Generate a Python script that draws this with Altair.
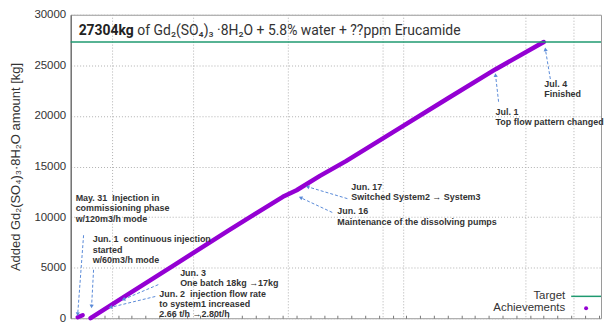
import math
import altair as alt
import pandas as pd

# ---- data (x = days since Jun. 1, y = cumulative kg) ----
may31_days = [-0.94, -0.58]
may31_kg = [100, 300]
main_days = [0, 2, 6, 10, 14, 15, 16.7, 18.6, 22, 26, 29.5, 33]
main_kg = [0, 1730, 5180, 8640, 12000, 12650, 14070, 15530, 18380, 21720, 24620, 27304]
target_kg = 27304

y_ticks = [0, 5000, 10000, 15000, 20000, 25000, 30000]
x_minor_ticks = list(range(-1, 38))
x_grid_days = [1.6, 7.5, 14.4, 21.3, 22.8, 31.7, 35.2]

NB = "\u00a0"
ann_text = [
    f"May. 31{NB}{NB}Injection in\ncommissioning phase\nw/120m3/h mode",
    f"Jun. 1{NB}{NB}continuous injection\n{NB}started\nw/60m3/h mode",
    "Jun. 3\nOne batch 18kg \u219217kg",
    f"Jun. 2{NB}{NB}injection flow rate\nto system1 increased\n2.66 t/h \u21922.80t/h",
    "Jun. 17\nSwitched System2 \u2192 System3",
    "Jun. 16\nMaintenance of the dissolving pumps",
    "Jul. 1\nTop flow pattern changed",
    "Jul. 4\nFinished",
]
ann_day = [-1.09, 0.15, 6.52, 5.0, 18.99, 17.97, 29.49, 33.04]
ann_kg = [12310, 8210, 4886, 2834, 13388, 10945, 20814, 23550]

arr_day0 = [-0.51, 0.217, 4.93, 4.71, 18.7, 17.6, 29.71, 33.48]
arr_kg0 = [8208, 4788, 3322, 2150, 11824, 10456, 21401, 23648]
arr_day1 = [-0.94, 0.072, 2.39, 1.45, 15.8, 15.29, 29.49, 33.12]
arr_kg1 = [391, 1173, 1857, 1075, 12997, 11922, 24039, 26580]

title_bold = "27304kg"
title_rest = "of Gd\u2082(SO\u2084)\u2083 \u00b78H\u2082O + 5.8% water + ??ppm Erucamide"
y_title = "Added Gd\u2082(SO\u2084)\u2083\u00b78H\u2082O amount [kg]"

# ---- layout ----
W, H = 533, 305
X_DOM = [-1.45, 37.17]
Y_DOM = [0, 30000]
px_day = W / (X_DOM[1] - X_DOM[0])
px_kg = H / (Y_DOM[1] - Y_DOM[0])

PURPLE = "#9400d3"
GREEN = "#1f9a70"
ARROW = "#5a8ad8"
TXT = "#333333"

xs = alt.Scale(domain=X_DOM, nice=False, zero=False)
ys = alt.Scale(domain=Y_DOM, nice=False, zero=False)

x_axis = alt.Axis(values=x_minor_ticks, labels=False, title=None, grid=False,
                  domain=False, tickSize=3, tickColor="#777", offset=-3)
y_axis = alt.Axis(values=y_ticks, format="d", title=y_title, grid=True, gridDash=[1, 2],
                  gridColor="#b0b0b0", tickSize=0, labelPadding=5,
                  labelFont="Liberation Sans", labelFontSize=11.5, labelColor=TXT,
                  titleFont="Liberation Sans", titleFontSize=13, titleFontWeight="normal",
                  titleColor=TXT, titlePadding=11, domainColor="#555")


def X(field):
    return alt.X(field, scale=xs, axis=x_axis, title=None)


def Y(field):
    return alt.Y(field, scale=ys, axis=y_axis, title=y_title)


ach = pd.DataFrame({
    "day": may31_days + main_days,
    "kg": may31_kg + main_kg,
    "seg": ["a"] * len(may31_days) + ["b"] * len(main_days),
})

base_line = alt.Chart(ach).mark_line(color=PURPLE, strokeWidth=4.5, strokeCap="round",
                                     strokeJoin="round").encode(
    x=X("day:Q"), y=Y("kg:Q"), detail="seg:N")

vgrid = alt.Chart(pd.DataFrame({"gd": x_grid_days})).mark_rule(
    color="#b0b0b0", strokeDash=[1, 2], strokeWidth=1).encode(x=X("gd:Q"))

target = alt.Chart(pd.DataFrame({"t": [target_kg]})).mark_rule(color=GREEN, strokeWidth=1.5).encode(
    y=Y("t:Q"))

arr = pd.DataFrame({"d0": arr_day0, "k0": arr_kg0, "d1": arr_day1, "k1": arr_kg1})
arr["ang"] = [
    math.degrees(math.atan2((r.d1 - r.d0) * px_day, (r.k1 - r.k0) * px_kg)) % 360
    for r in arr.itertuples()
]
arrows = alt.Chart(arr).mark_rule(color=ARROW, strokeDash=[3, 2], strokeWidth=1).encode(
    x=X("d0:Q"), y=Y("k0:Q"), x2="d1:Q", y2="k1:Q")
heads = alt.Chart(arr).mark_point(shape="triangle-up", filled=True, color=ARROW, size=18,
                                  opacity=1).encode(
    x=X("d1:Q"), y=Y("k1:Q"), angle=alt.Angle("ang:Q", scale=None))

ann = pd.DataFrame({"txt": ann_text, "d": ann_day, "k": ann_kg})
notes = alt.Chart(ann).mark_text(align="left", baseline="top", font="Liberation Sans",
                                 fontSize=9, fontWeight="bold", color=TXT, lineBreak="\n",
                                 lineHeight=10.5).encode(
    x=X("d:Q"), y=Y("k:Q"), text="txt:N")

t1 = alt.Chart(pd.DataFrame({"s": [title_bold]})).mark_text(
    align="left", baseline="alphabetic", font="Roboto", fontSize=14, fontWeight="bold",
    color="#222").encode(x=alt.value(8), y=alt.value(20), text="s:N")
t2 = alt.Chart(pd.DataFrame({"s": [title_rest]})).mark_text(
    align="left", baseline="alphabetic", font="Roboto", fontSize=14, color="#333").encode(
    x=alt.value(67), y=alt.value(20), text="s:N")

leg_t = alt.Chart(pd.DataFrame({"s": ["Target"]})).mark_text(
    align="right", baseline="middle", font="Liberation Sans", fontSize=11.5, color=TXT).encode(
    x=alt.value(497), y=alt.value(283), text="s:N")
leg_a = alt.Chart(pd.DataFrame({"s": ["Achievements"]})).mark_text(
    align="right", baseline="middle", font="Liberation Sans", fontSize=11.5, color=TXT).encode(
    x=alt.value(497), y=alt.value(295), text="s:N")
leg_line = alt.Chart(pd.DataFrame({"s": ["Target"]})).mark_rule(color=GREEN, strokeWidth=1.5).encode(
    x=alt.value(503), x2=alt.value(533), y=alt.value(283))
leg_pt = alt.Chart(pd.DataFrame({"s": ["Achievements"]})).mark_circle(color=PURPLE, size=16, opacity=1).encode(
    x=alt.value(518), y=alt.value(295))

chart = alt.layer(
    vgrid, base_line, target, arrows, heads, notes, t1, t2, leg_t, leg_a, leg_line, leg_pt
).properties(
    width=W, height=H,
    padding={"left": 2, "top": 0, "right": 0, "bottom": 0},
    background="white",
).configure_view(stroke="#999999", strokeWidth=1)

chart.save("out.html", embed_options={"renderer": "svg", "actions": False})
